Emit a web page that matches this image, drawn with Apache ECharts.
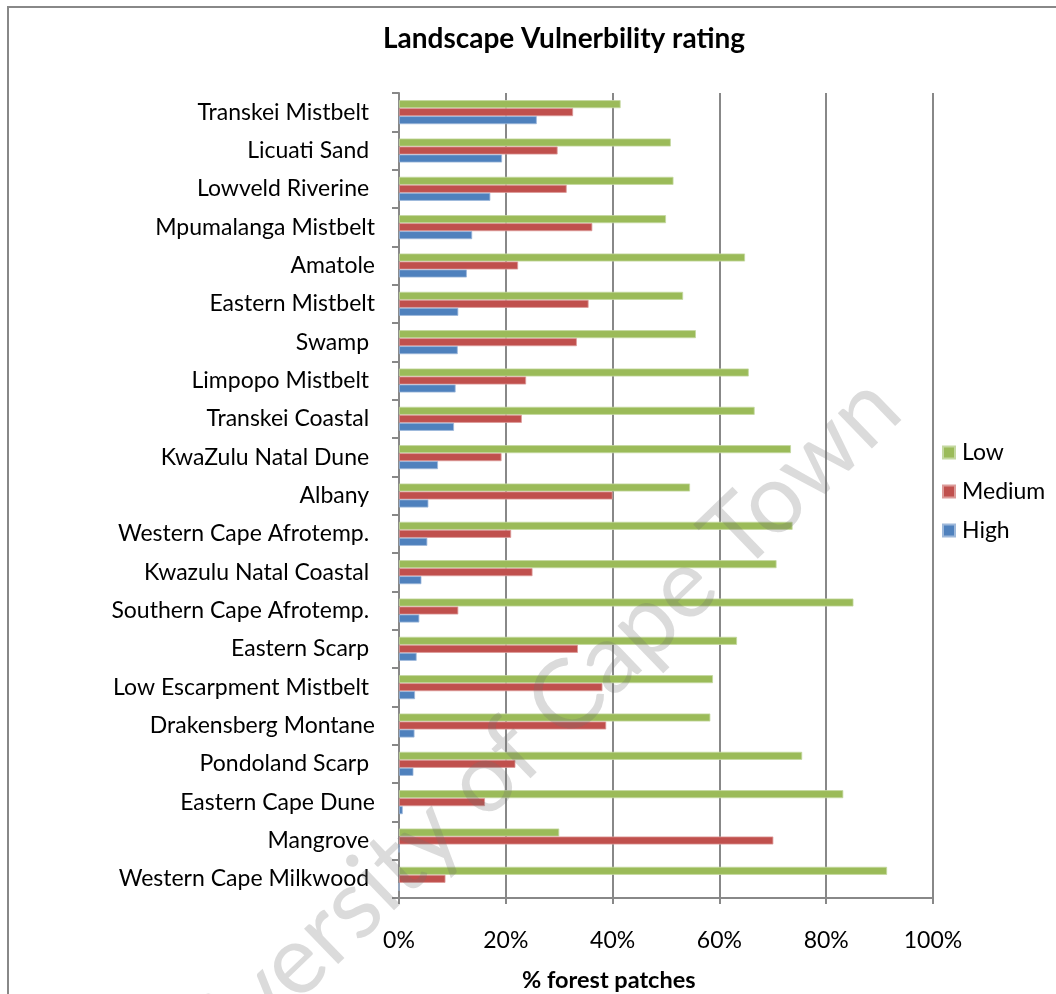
<!DOCTYPE html>
<html>
<head>
<meta charset="utf-8">
<title>Landscape Vulnerbility rating</title>
<script src="https://cdn.jsdelivr.net/npm/echarts@6/dist/echarts.min.js"></script>
<style>
  html, body { margin: 0; padding: 0; background: #ffffff; }
  #chart { width: 1056px; height: 994px; }
</style>
</head>
<body>
<div id="chart"></div>
<script>
// Forest types, listed bottom-to-top as the category axis draws them
const categories = [
  'Western Cape Milkwood ',
  'Mangrove ',
  'Eastern Cape Dune',
  'Pondoland Scarp ',
  'Drakensberg Montane',
  'Low Escarpment Mistbelt ',
  'Eastern Scarp ',
  'Southern Cape Afrotemp. ',
  'Kwazulu Natal Coastal ',
  'Western Cape Afrotemp. ',
  'Albany ',
  'KwaZulu Natal Dune ',
  'Transkei Coastal ',
  'Limpopo Mistbelt ',
  'Swamp ',
  'Eastern Mistbelt',
  'Amatole',
  'Mpumalanga Mistbelt',
  'Lowveld Riverine ',
  'Licuati Sand ',
  'Transkei Mistbelt '
];

// Share of forest patches (%) in each vulnerability class
const lowValues = [91.4, 30.0, 83.2, 75.5, 58.3, 58.8, 63.3, 85.1, 70.7, 73.7, 54.5,
                   73.4, 66.6, 65.5, 55.6, 53.2, 64.8, 50.0, 51.4, 50.9, 41.5];
const mediumValues = [8.7, 70.1, 16.1, 21.8, 38.8, 38.1, 33.5, 11.1, 25.0, 21.0, 40.0,
                      19.2, 23.0, 23.8, 33.3, 35.5, 22.3, 36.2, 31.4, 29.7, 32.6];
const highValues = [0, 0, 0.7, 2.7, 2.9, 3.0, 3.3, 3.8, 4.2, 5.3, 5.5,
                    7.3, 10.3, 10.6, 11.0, 11.1, 12.7, 13.7, 17.1, 19.3, 25.8];

const xTicks = [0, 20, 40, 60, 80, 100];

const FONT = 'Lato, "Open Sans", sans-serif';
const GRID_GRAY = '#888888';

const chart = echarts.init(document.getElementById('chart'), null, { renderer: 'canvas' });

function barSeries(name, data, color, edge) {
  return {
    name: name,
    type: 'bar',
    data: data,
    barWidth: 8,
    barGap: '0%',
    itemStyle: { color: color, borderColor: edge, borderWidth: 0.8 },
    emphasis: { disabled: true }
  };
}

chart.setOption({
  animation: false,
  backgroundColor: '#ffffff',
  title: {
    text: 'Landscape Vulnerbility rating',
    left: 559,
    top: 20,
    textAlign: 'center',
    textStyle: { fontFamily: FONT, fontWeight: 'bold', fontSize: 28, color: '#000000' }
  },
  legend: {
    orient: 'vertical',
    left: 942,
    top: 441,
    padding: 0,
    data: ['Low', 'Medium', 'High'],
    icon: 'rect',
    itemWidth: 12,
    itemHeight: 12,
    itemGap: 16,
    textStyle: { fontFamily: FONT, fontSize: 23, lineHeight: 23, color: '#000000', padding: [0, 0, 0, 2] }
  },
  grid: { left: 399, right: 123, top: 93, bottom: 96, containLabel: false },
  xAxis: {
    type: 'value',
    min: xTicks[0],
    max: xTicks[xTicks.length - 1],
    interval: 20,
    axisLine: { show: true, lineStyle: { color: GRID_GRAY, width: 2 } },
    axisTick: { show: true, length: 6, lineStyle: { color: GRID_GRAY, width: 2 } },
    axisLabel: {
      formatter: '{value}%',
      margin: 31,
      fontFamily: FONT, fontSize: 23, color: '#000000'
    },
    splitLine: { show: true, lineStyle: { color: GRID_GRAY, width: 2 } }
  },
  yAxis: {
    type: 'category',
    data: categories,
    axisLine: { show: true, lineStyle: { color: GRID_GRAY, width: 2 } },
    axisTick: { show: true, length: 7, lineStyle: { color: GRID_GRAY, width: 2 } },
    axisLabel: { margin: 24, fontFamily: FONT, fontSize: 23, color: '#000000' },
    splitLine: { show: false }
  },
  // first series sits at the top of each group
  series: [
    barSeries('Low', lowValues, '#9BBB59', '#C4D8A0'),
    barSeries('Medium', mediumValues, '#C0504D', '#DC9B99'),
    barSeries('High', highValues, '#4F81BD', '#9DB8DA')
  ],
  graphic: [
    {
      type: 'rect',
      shape: { x: 8, y: 7, width: 1200, height: 1200 },
      style: { fill: null, stroke: '#888888', lineWidth: 2 },
      silent: true
    },
    {
      type: 'text',
      left: 522,
      top: 968,
      style: { text: '% forest patches', font: 'bold 23.5px ' + FONT, fill: '#000000' },
      silent: true
    },
    {
      type: 'text',
      x: 918,
      y: 428,
      rotation: 44 * Math.PI / 180,
      style: {
        text: 'University of Cape Town',
        font: '97px ' + FONT,
        fill: 'rgba(110,110,110,0.25)',
        align: 'right',
        verticalAlign: 'bottom'
      },
      silent: true,
      z: 100
    }
  ]
});
</script>
</body>
</html>
